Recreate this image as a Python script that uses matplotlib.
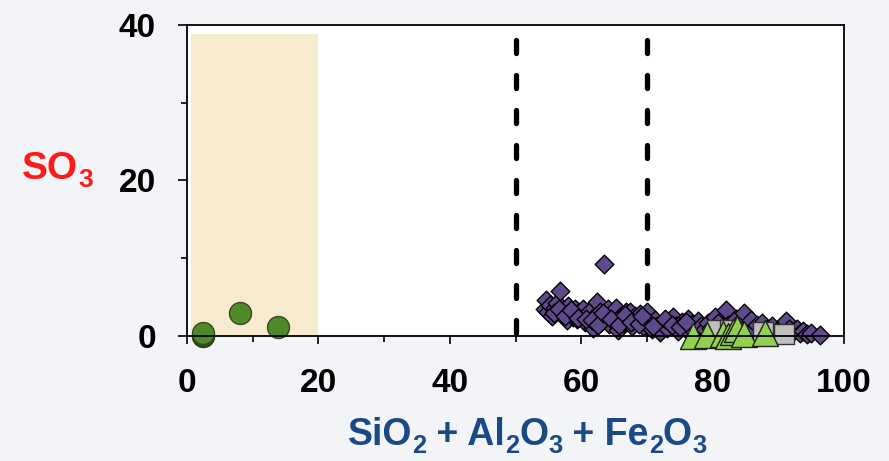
import matplotlib
matplotlib.use('Agg')
import matplotlib.pyplot as plt
from matplotlib.patches import Rectangle
from matplotlib.ticker import MultipleLocator

plt.rcParams['font.family'] = ['Liberation Sans', 'DejaVu Sans']
plt.rcParams['lines.scale_dashes'] = False

# circles (green)
circ_x = [2.4, 8.0, 13.9]
circ_y = [0.4, 2.9, 1.1]

# diamonds (purple)
dia_x = [54.5, 54.7, 55.0, 55.3, 55.6, 56.0, 56.3, 56.8, 57.0, 57.3, 57.8, 58.0, 58.3, 58.7,
         59.0, 59.3, 59.7, 60.0, 60.3, 60.6, 61.0, 61.3, 61.8, 62.0, 62.4, 62.8, 63.0, 63.5,
         63.6, 64.0, 64.3, 64.7, 65.0, 65.3, 65.6, 66.0, 66.4, 66.8, 67.1, 67.4, 67.8, 68.2,
         68.6, 69.0, 69.4, 69.7, 70.0, 70.4, 70.8, 71.2, 71.6, 72.0, 72.5, 73.0, 73.5, 74.0,
         74.4, 74.8, 75.3, 75.8, 76.3, 76.8, 77.2, 77.8, 78.3, 78.8, 79.3, 79.8, 80.3, 80.8,
         81.3, 82.0, 82.4, 83.0, 83.5, 84.0, 84.8, 85.2, 85.8, 86.3, 86.8, 87.5, 88.3, 89.0,
         89.8, 90.5, 91.1, 91.6, 92.3, 92.8, 93.3, 93.8, 94.3, 95.0, 96.4,
         55.8, 56.6, 57.6, 58.5, 59.5, 60.8, 61.6, 62.6, 63.3, 64.5, 65.8, 66.6, 67.6, 68.8,
         69.2, 71.0, 72.8, 73.8, 75.0, 76.0]
dia_y = [3.5, 4.6, 3.0, 4.0, 2.5, 3.6, 4.2, 5.8, 3.2, 2.8, 2.0, 3.8, 3.0, 2.4,
         3.4, 2.1, 3.0, 2.6, 3.5, 1.8, 2.8, 3.2, 1.0, 2.4, 4.4, 3.0, 1.8, 9.2,
         2.6, 3.4, 1.5, 2.8, 2.0, 3.6, 0.7, 2.5, 1.6, 3.0, 2.2, 3.1, 1.2, 2.5,
         1.8, 2.8, 1.2, 2.2, 3.1, 1.6, 0.8, 2.0, 1.2, 0.5, 1.6, 1.0, 2.0, 2.4,
         1.2, 0.6, 1.8, 1.0, 2.2, 1.5, 0.6, 1.9, 1.2, 0.8, 1.6, 1.0, 2.4, 1.6,
         0.8, 3.3, 1.4, 1.0, 2.2, 1.6, 2.9, 1.2, 2.0, 0.8, 1.4, 1.6, 0.9, 1.3,
         0.6, 1.1, 1.9, 0.8, 0.5, 0.9, 0.3, 0.6, 0.2, 0.4, 0.1,
         2.9, 3.4, 2.6, 3.3, 2.3, 2.2, 2.0, 1.4, 2.9, 2.2, 1.4, 2.7, 1.8, 1.5,
         2.5, 1.3, 2.1, 1.4, 1.1, 1.7]

# squares (grey)
sq_x = [80.6, 82.6, 87.6, 90.8]
sq_y = [0.7, 0.7, 0.5, 0.2]

# triangles (light green)
tri_x = [77.0, 79.1, 81.6, 82.4, 83.1, 83.7, 84.7, 88.0]
tri_y = [0.0, 0.1, 0.2, 0.0, 0.5, 0.9, 0.2, 0.3]

# axis label pieces: (text, subscript?)
ylabel_parts = [('SO', False), ('3', True)]
xlabel_parts = [('SiO', False), ('2', True), (' + Al', False), ('2', True), ('O', False),
                ('3', True), (' + Fe', False), ('2', True), ('O', False), ('3', True)]


def chem_text(fig, parts, cx, base_y, size, color):
    # draws a formula with real subscripts, centred on cx (pixels), baseline at base_y (pixels from top)
    r = fig.canvas.get_renderer()
    W, H = fig.bbox.width, fig.bbox.height
    pieces = []
    total = 0
    for txt, sub in parts:
        fs = size * 0.68 if sub else size
        t = fig.text(0, 0, txt, fontsize=fs, fontweight='bold', color=color,
                     ha='left', va='baseline')
        w = t.get_window_extent(r).width
        pieces.append((t, sub, w))
        total += w
    x = cx - total / 2
    for t, sub, w in pieces:
        yb = base_y + (size * 0.30 if sub else 0)
        t.set_position((x / W, 1 - yb / H))
        x += w


fig = plt.figure(figsize=(8.89, 4.61), dpi=100, facecolor='#f2f4f7')
ax = fig.add_axes([0.2104, 0.2718, 0.7390, 0.6740])
ax.set_facecolor('white')

ax.add_patch(Rectangle((0.6, 0), 19.4, 38.8, facecolor='#f7ebcf', edgecolor='none', zorder=1))

for xv in [50, 70]:
    ax.plot([xv, xv], [38.1, 0], color='black', lw=3.8, dashes=(9.4, 15.8),
            solid_capstyle='round', dash_capstyle='round', zorder=2)

ax.scatter([2.4], [0.0], s=250, marker='o', color='#1d5c12', edgecolor='#2b3a18', zorder=3, clip_on=False)
ax.scatter(circ_x, circ_y, s=250, marker='o', color='#4e8a28', edgecolor='#3d4420', lw=1, zorder=4, clip_on=False)
ax.scatter(dia_x, dia_y, s=90, marker='D', color='#5e4a8a', edgecolor='black', lw=1, zorder=4, clip_on=False)
ax.scatter(sq_x, sq_y, s=220, marker='s', color='#bfbfbf', edgecolor='#333333', lw=1, zorder=5, clip_on=False)
ax.scatter(tri_x, tri_y, s=350, marker='^', color='#92d050', edgecolor='#222222', lw=1, zorder=6, clip_on=False)

ax.set_xlim(0, 100)
ax.set_ylim(0, 40)
ax.xaxis.set_major_locator(MultipleLocator(20))
ax.xaxis.set_minor_locator(MultipleLocator(10))
ax.yaxis.set_major_locator(MultipleLocator(20))
ax.yaxis.set_minor_locator(MultipleLocator(10))
ax.tick_params(axis='x', which='major', direction='out', length=6, width=1.2, pad=17, labelsize=24)
ax.tick_params(axis='x', which='minor', direction='out', length=4, width=1.2)
ax.tick_params(axis='y', which='major', direction='out', length=6.5, width=1.2, pad=16, labelsize=24)
ax.tick_params(axis='y', which='minor', direction='out', length=4.3, width=1.2)
for lab in ax.get_xticklabels() + ax.get_yticklabels():
    lab.set_fontweight('bold')
for sp in ax.spines.values():
    sp.set_linewidth(1.3)
    sp.set_zorder(7)

chem_text(fig, ylabel_parts, 57.5, 179, 28, '#ff1a1a')
chem_text(fig, xlabel_parts, 527, 445, 27, '#1a4a85')

fig.savefig('out.png', dpi=100, facecolor=fig.get_facecolor())
